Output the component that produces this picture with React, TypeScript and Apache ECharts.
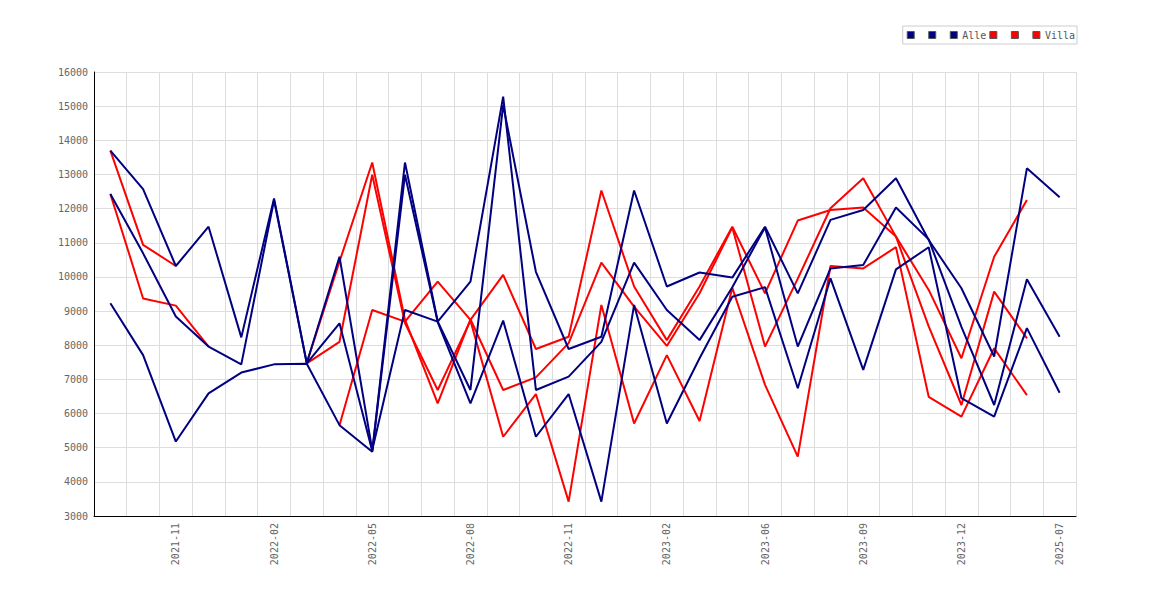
import React, { useEffect, useRef } from "react";
import * as echarts from "echarts";

const categories = [
  "2021-09", "2021-10", "2021-11", "2021-12", "2022-01", "2022-02", "2022-03", "2022-04",
  "2022-05", "2022-06", "2022-07", "2022-08", "2022-09", "2022-10", "2022-11", "2022-12",
  "2023-01", "2023-02", "2023-03", "2023-05", "2023-06", "2023-07", "2023-08", "2023-09",
  "2023-10", "2023-11", "2023-12", "2024-01", "2024-02", "2025-07",
];

const alle1 = [13700, 12570, 10320, 11470, 8230, 12300, 7480, 10590, 4930, 9030, 8690, 9860, 15280, 6690, 7080, 8100, 10420, 9030, 8150, 9700, 11450, 7960, 10250, 10350, 12030, 11100, 8540, 6250, 9930, 8250];
const alle2 = [12430, 10690, 8840, 7960, 7440, 12250, 7470, 8640, 4900, 13350, 8700, 6690, 15030, 10150, 7890, 8250, 12530, 9720, 10130, 9980, 11470, 9520, 11670, 11960, 12890, 11080, 9670, 7670, 13180, 12330];
const alle3 = [9230, 7710, 5180, 6590, 7200, 7440, 7460, 5660, 4880, 12990, 8680, 6300, 8720, 5320, 6570, 3420, 9180, 5710, 7620, 9420, 9700, 6740, 9960, 7280, 10220, 10870, 6450, 5910, 8500, 6610];

const villa1 = [13700, 10940, 10320, null, null, null, 7480, 10450, 13350, 8750, 6300, 8760, 6690, 7060, 8060, 10420, 9130, 7980, 9520, 11450, 7960, 9950, 12010, 12890, 11180, 9620, 7620, 10590, 12250, null];
const villa2 = [12430, 9370, 9160, 7960, null, null, 7470, 8100, 12990, 8650, 6690, 8720, 5320, 6570, 3420, 9180, 5710, 7710, 5780, 9680, 6840, 4740, 10320, 10250, 10870, 6490, 5910, 7910, 6540, null];
const villa3 = [null, null, null, null, null, null, null, 5660, 9030, 8690, 9860, 8740, 10060, 7890, 8250, 12530, 9720, 8150, 9720, 11470, 9520, 11650, 11960, 12030, 11180, 8550, 6250, 9570, 8200, null];

const seriesNames = ["alle1", "alle2", "Alle", "villa1", "villa2", "Villa"];
const yTicks = { min: 3000, max: 16000, interval: 1000 };

const NAVY = "#000080";
const RED = "#ff0000";
const FONT = "DejaVu Sans Mono";

export default function App() {
  const ref = useRef<HTMLDivElement>(null);
  useEffect(() => {
    if (!ref.current) return;
    const chart = echarts.init(ref.current, undefined, { renderer: "svg" });
    const mk = (name: string, data: (number | null)[], color: string, z: number) => ({
      name,
      type: "line",
      data,
      symbol: "none",
      z,
      color,
      lineStyle: { color, width: 2 },
      itemStyle: { color },
      connectNulls: false,
    });
    chart.setOption({
      animation: false,
      backgroundColor: "#ffffff",
      grid: { left: 94, right: 94, top: 72, bottom: 84 },
      legend: {
        data: seriesNames,
        top: 26,
        right: 93,
        icon: "rect",
        itemWidth: 7,
        itemHeight: 7,
        itemGap: 3,
        padding: [4, 2, 4, 4],
        borderColor: "#cccccc",
        borderWidth: 1,
        itemStyle: { borderColor: "#555555", borderWidth: 1 },
        textStyle: { fontFamily: FONT, fontSize: 10, color: "#555555" },
        formatter: (n: string) => (n === "Alle" || n === "Villa" ? n : " "),
      },
      xAxis: {
        type: "category",
        data: categories,
        boundaryGap: true,
        axisLine: { show: true, lineStyle: { color: "#000000", width: 1 } },
        axisTick: { show: false, interval: 0 },
        axisLabel: {
          interval: (i: number) => i % 3 === 2,
          rotate: 90,
          margin: 7,
          fontFamily: FONT,
          fontSize: 10,
          color: "#666666",
        },
        splitLine: { show: true, interval: 0, lineStyle: { color: "#dddddd", width: 1 } },
      },
      yAxis: {
        type: "value",
        min: yTicks.min,
        max: yTicks.max,
        interval: yTicks.interval,
        axisLine: { show: true, lineStyle: { color: "#000000", width: 1 } },
        axisTick: { show: false },
        axisLabel: {
          margin: 6,
          fontFamily: FONT,
          fontSize: 10,
          color: "#666666",
          formatter: (v: number) => String(v),
        },
        splitLine: { show: true, lineStyle: { color: "#dddddd", width: 1 } },
      },
      series: [
        mk("alle1", alle1, NAVY, 3),
        mk("alle2", alle2, NAVY, 3),
        mk("Alle", alle3, NAVY, 3),
        mk("villa1", villa1, RED, 2),
        mk("villa2", villa2, RED, 2),
        mk("Villa", villa3, RED, 2),
      ],
    });
    return () => chart.dispose();
  }, []);
  return (
    <div
      ref={ref}
      style={{ position: "fixed", left: 0, top: 0, width: 1170, height: 600, background: "#fff" }}
    />
  );
}
